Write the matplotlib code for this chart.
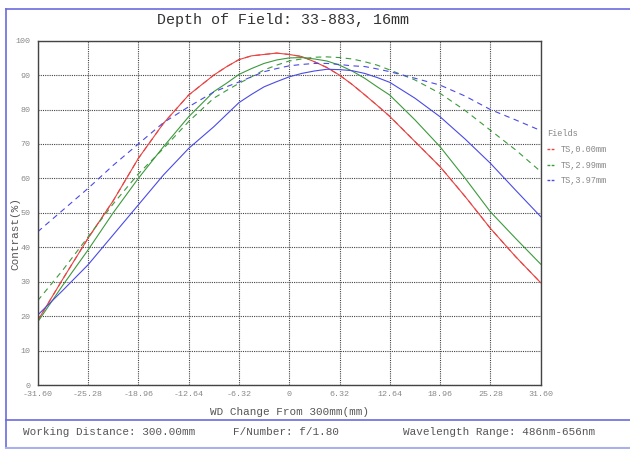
import matplotlib
matplotlib.use('agg')
import matplotlib.pyplot as plt
from matplotlib.lines import Line2D

# x positions (WD change, mm)
wd = [-31.60, -28.44, -25.28, -22.12, -18.96, -15.80, -12.64, -9.48, -7.90, -6.32,
      -4.74, -3.16, -1.58, 0.0, 1.58, 3.16, 4.74, 6.32, 7.90, 9.48,
      11.06, 12.64, 15.80, 18.96, 22.12, 25.28, 28.44, 31.60]

# contrast (%)
red_t = [18.7, 30.8, 42.6, 53.5, 65.8, 76.0, 84.2, 90.0, 92.4, 94.5,
         95.6, 96.0, 96.4, 96.0, 95.4, 93.9, 92.2, 90.0, 87.3, 84.3,
         81.2, 78.0, 70.7, 63.4, 54.7, 45.5, 37.3, 29.7]
red_s = red_t
green_t = [18.3, 29.0, 39.2, 50.0, 60.0, 69.2, 77.9, 85.2, 87.6, 90.2,
           91.9, 93.4, 94.4, 95.0, 95.1, 94.7, 94.1, 92.9, 91.2, 89.1,
           86.6, 84.2, 77.0, 69.2, 60.0, 50.3, 42.6, 35.1]
green_s = [24.5, 33.4, 43.0, 52.6, 61.3, 68.7, 76.5, 83.3, 85.5, 87.6,
           89.5, 91.5, 92.9, 94.1, 94.7, 95.2, 95.3, 95.1, 94.7, 93.9,
           92.9, 91.5, 88.6, 84.7, 79.7, 74.0, 68.3, 62.0]
blue_t = [20.3, 27.5, 34.9, 43.6, 52.3, 61.0, 68.7, 75.0, 78.5, 82.0,
          84.4, 86.6, 88.1, 89.5, 90.5, 91.2, 91.7, 91.6, 91.3, 90.5,
          89.3, 87.9, 83.3, 77.9, 71.4, 64.4, 56.6, 48.9]
blue_s = [44.5, 50.8, 57.1, 63.8, 70.0, 76.2, 80.8, 85.1, 86.6, 88.0,
          89.5, 91.0, 91.9, 92.7, 93.1, 93.4, 93.4, 93.1, 92.7, 92.5,
          91.8, 91.0, 89.1, 87.1, 83.9, 80.0, 77.0, 73.9]

field_labels = ['TS,0.00mm', 'TS,2.99mm', 'TS,3.97mm']
colors = ['#e84444', '#3c9a3c', '#4a4ae6']
xticks = [-31.60, -25.28, -18.96, -12.64, -6.32, 0, 6.32, 12.64, 18.96, 25.28, 31.60]
xticklabels = ['-31.60', '-25.28', '-18.96', '-12.64', '-6.32', '0',
               '6.32', '12.64', '18.96', '25.28', '31.60']
yticks = list(range(0, 101, 10))

plt.rcParams['font.family'] = ['Liberation Mono', 'DejaVu Sans Mono']

fig = plt.figure(figsize=(6.3, 4.49), dpi=100)
ax = fig.add_axes([37.7/630, 1-385/449, (540.7-37.7)/630, (385-40.7)/449])

lw = 0.8
for tan, sag, c in [(red_t, red_s, colors[0]), (green_t, green_s, colors[1]),
                    (blue_t, blue_s, colors[2])]:
    ax.plot(wd, tan, color=c, lw=lw)
    ax.plot(wd, sag, color=c, lw=lw, dashes=(5, 4))

ax.set_xlim(-31.6, 31.6)
ax.set_ylim(0, 100)
ax.set_xticks(xticks)
ax.set_xticklabels(xticklabels)
ax.set_yticks(yticks)
ax.tick_params(length=0, labelsize=6, labelcolor='#888888')
ax.tick_params(axis='x', pad=4)
ax.tick_params(axis='y', pad=5)
ax.grid(True, color='#444444', linestyle=(0, (1, 1)), linewidth=0.8)
for sp in ax.spines.values():
    sp.set_color('#444444')
    sp.set_linewidth(1.0)

ax.set_xlabel('WD Change From 300mm(mm)', fontsize=7.9, color='#555555', labelpad=6.5)
ax.set_ylabel('Contrast(%)', fontsize=7.9, color='#555555')
ax.yaxis.set_label_coords(-0.035, 0.441)

fig.text(283/630, 1-20/449, 'Depth of Field: 33-883, 16mm', fontsize=10.8,
         color='#333333', ha='center', va='center')

# legend
handles = []
for c in colors:
    handles.append(Line2D([], [], color=c, lw=1.0, dashes=(2, 1)))
leg = fig.legend(handles, field_labels, title='Fields', loc='upper left',
                 bbox_to_anchor=(539/630, 1-121/449), frameon=False,
                 fontsize=6.2, title_fontsize=6.2, handlelength=1.0,
                 handletextpad=0.6, labelspacing=0.8, alignment='left')
for t in leg.get_texts():
    t.set_color('#888888')
leg.get_title().set_color('#888888')

# footer text
fy = 1-432/449
fig.text(22.7/630, fy, 'Working Distance: 300.00mm', fontsize=7.9, color='#555555', va='center')
fig.text(233/630, fy, 'F/Number: f/1.80', fontsize=7.9, color='#555555', va='center')
fig.text(403/630, fy, 'Wavelength Range: 486nm-656nm', fontsize=7.9, color='#555555', va='center')

# frame lines
fc = '#6b6bdc'
fig.add_artist(Line2D([6/630, 6/630], [1-9/449, 1-448/449], color=fc, lw=1.2, transform=fig.transFigure))
fig.add_artist(Line2D([6/630, 1], [1-9/449, 1-9/449], color=fc, lw=1.2, transform=fig.transFigure))
fig.add_artist(Line2D([6/630, 1], [1-419.5/449, 1-419.5/449], color=fc, lw=1.2, transform=fig.transFigure))
fig.add_artist(Line2D([6/630, 1], [1-447.5/449, 1-447.5/449], color='#aab0ee', lw=1.5, transform=fig.transFigure))

fig.savefig('out.png', dpi=100)
